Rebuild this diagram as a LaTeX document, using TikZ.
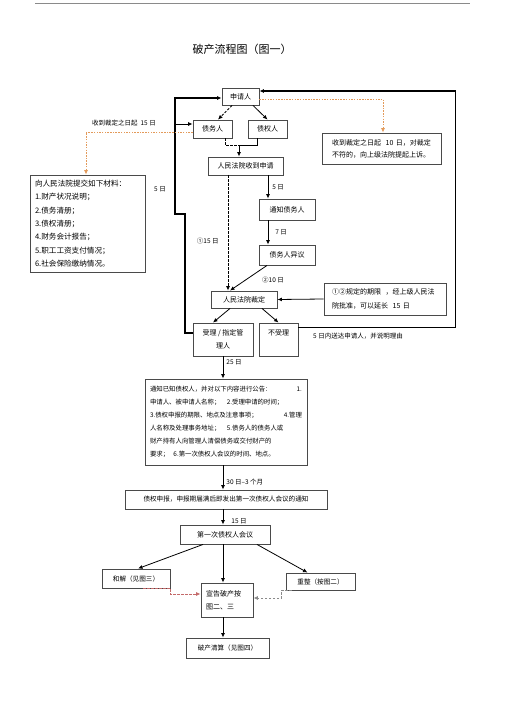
\documentclass[tikz,border=0pt]{standalone}
\usepackage{fontspec}
\setmainfont{Noto Sans CJK SC}
\usetikzlibrary{arrows.meta, positioning}
\definecolor{grisborde}{HTML}{4A4A4A}
\definecolor{naranjapunto}{HTML}{E39A5A}
\definecolor{rojopunto}{HTML}{C46A6A}
\definecolor{grispunto}{HTML}{8A8A8A}
\tikzset{
  caja/.style={
    draw=grisborde, line width=0.9pt, inner sep=0pt,
    align=center, font=\fontsize{7}{13}\selectfont, fill=white
  },
  cajaTexto/.style={caja, align=left, inner xsep=5pt, inner ysep=3pt},
  flecha/.style={-{Latex[length=4.5pt, width=4pt]}, line width=0.8pt, black},
  flechaPunteada/.style={flecha, dash pattern=on 2.5pt off 1.5pt},
  lineaPunteada/.style={line width=0.8pt, black, dash pattern=on 2.5pt off 1.5pt},
  flechaLazo/.style={flecha, line width=1.1pt},
  flechaNaranja/.style={-{Latex[length=4.5pt, width=4pt]}, line width=0.8pt,
    naranjapunto, dash pattern=on 1.5pt off 1.2pt},
  flechaRoja/.style={-{Latex[length=4.5pt, width=4pt]}, line width=0.8pt,
    rojopunto, dash pattern=on 2.5pt off 1.5pt},
  flechaGris/.style={-{Latex[length=4.5pt, width=4pt]}, line width=0.8pt,
    grispunto, dash pattern=on 2.5pt off 1.5pt},
  etiqueta/.style={font=\fontsize{6.5}{8}\selectfont, inner sep=1pt},
}

\begin{document}
\begin{tikzpicture}[x=1pt, y=-1pt]
    \useasboundingbox (0,0) rectangle (505,714);
    % Encabezado
    \draw[line width=0.5pt, grispunto] (35,3) -- (470,3);
    \node[font=\fontsize{11}{13}\selectfont] (titulo) at (242,49) {破产流程图（图一）};

    % Solicitud
    \node[caja, minimum width=37pt, minimum height=17pt] (sq) at (240.5,96.5) {申请人};
    \node[caja, minimum width=39pt, minimum height=18pt] (dw) at (212.5,129) {债务人};
    \node[caja, minimum width=39pt, minimum height=18pt] (zq) at (267.5,129) {债权人};
    \node[caja, minimum width=75pt, minimum height=18pt] (sd) at (245.5,166) {人民法院收到申请};
    \node[caja, minimum width=56pt, minimum height=21pt] (tz) at (287,209.5) {通知债务人};
    \node[caja, minimum width=56pt, minimum height=20pt] (yy) at (287,255) {债务人异议};
    \node[caja, minimum width=66pt, minimum height=17pt] (cd) at (244,299.5) {人民法院裁定};
    \node[caja, minimum width=60pt, minimum height=33pt] (sl) at (223,339.5) {受理 / 指定管\\理人};
    \node[caja, minimum width=39pt, minimum height=33pt] (bsl) at (278.5,339.5) {不受理\\\mbox{}};

    % Notas laterales
    \node[cajaTexto, text width=99pt, inner xsep=10pt, minimum height=31pt,
          font=\fontsize{7}{12}\selectfont] (ss) at (381.5,148.5)
          {收到裁定之日起\ \ 10 日，对裁定\\不符的，向上级法院提起上诉。};
    \node[cajaTexto, text width=105pt, minimum height=97pt,
          font=\fontsize{7.6}{13.3}\selectfont] (cl) at (87.5,223.5)
          {向人民法院提交如下材料：\\1.财产状况说明；\\2.债务清册；\\3.债权清册；\\4.财务会计报告；\\5.职工工资支付情况；\\6.社会保险缴纳情况。};
    \node[cajaTexto, text width=106pt, inner xsep=8pt, minimum height=32pt,
          font=\fontsize{7}{14}\selectfont] (yc) at (385,299)
          {①②规定的期限\ \ ，经上级人民法\\院批准，可以延长\ \ 15 日};

    % Tramite posterior
    \node[cajaTexto, text width=152pt, minimum height=86pt,
          font=\fontsize{6.4}{13}\selectfont] (gg) at (226,422)
          {通知已知债权人，并对以下内容进行公告：\hfill 1.\\
           申请人、被申请人名称；\quad 2.受理申请的时间；\\
           3.债权申报的期限、地点及注意事项；\hfill 4.管理\\
           人名称及处理事务地址；\quad 5.债务人的债务人或\\
           财产持有人向管理人清偿债务或交付财产的\\
           要求；\ \ 6.第一次债权人会议的时间、地点。};
    \node[caja, minimum width=202pt, minimum height=19pt,
          font=\fontsize{6.6}{13}\selectfont] (sb) at (226,499.5)
          {债权申报，申报期届满后即发出第一次债权人会议的通知};
    \node[caja, minimum width=90pt, minimum height=19pt] (hy) at (225,534.5) {第一次债权人会议};
    \node[caja, minimum width=68pt, minimum height=19pt, font=\fontsize{6.6}{13}\selectfont] (hj) at (136,578.5) {和解（见图三）};
    \node[caja, minimum width=69pt, minimum height=17pt, font=\fontsize{6.6}{13}\selectfont] (cz) at (320.5,581.5) {重整（按图二）};
    \node[cajaTexto, text width=42pt, minimum height=34pt, font=\fontsize{7}{13}\selectfont] (xg) at (227,600) {宣告破产按\\图二、三};
    \node[caja, minimum width=83pt, minimum height=20pt, font=\fontsize{6.6}{13}\selectfont] (qs) at (227.5,648) {破产清算（见图四）};

    % Etiquetas sueltas
    \node[etiqueta] (e15) at (124,123) {收到裁定之日起\ \ 15 日};
    \node[etiqueta] (e5a) at (160,189) {5 日};
    \node[etiqueta] (e5b) at (358,336) {5 日内送达申请人，并说明理由};

    % Lazos exteriores
    \coordinate (lz1) at (185,214);
    \coordinate (lz2) at (175,214);
    \coordinate (lz3) at (175,124);
    \draw[flechaLazo] ([yshift=6.5pt]sl.west) -| (lz1) -- (lz2) |- ([yshift=-1.5pt]sq.west);
    \draw[flecha] (lz3) -- ([yshift=5pt]dw.west);
    \draw[flechaLazo] ([yshift=-5pt]bsl.north east) -- ++(157,0) |- ([yshift=5.5pt]sq.east);

    % Punteadas naranjas
    \draw[flechaNaranja] ([yshift=-3pt]dw.west) -| ([xshift=-1.5pt]cl.north);
    \draw[flechaNaranja] ([yshift=-2.5pt]sq.east) -| ([xshift=1.5pt]ss.north);

    % Flujo principal
    \coordinate (jn) at (239,145);
    \draw[flechaPunteada] ([xshift=-8.5pt]sq.south) -- ([xshift=5.5pt]dw.north);
    \draw[flecha] ([xshift=12.5pt]sq.south) -- (zq.north);
    \draw[lineaPunteada] ([xshift=12.5pt]dw.south) |- (jn);
    \draw[flecha] ([xshift=-10.5pt]zq.south) |- (jn) -- (jn |- sd.north);
    \draw[flechaPunteada] ([xshift=-17.5pt]sd.south) -- ([xshift=-16pt]cd.north)
        node[etiqueta, pos=0.57, left=8pt] {①15 日};
    \draw[flecha] ([xshift=22.5pt]sd.south) -- ([xshift=-19pt]tz.north)
        node[etiqueta, midway, right=3pt] {5 日};
    \draw[flecha] ([xshift=-19pt]tz.south) -- ([xshift=-19pt]yy.north)
        node[etiqueta, midway, right=6pt] {7 日};
    \draw[flecha] ([xshift=-20pt]yy.south) -- ([xshift=-14pt]cd.north)
        node[etiqueta, pos=0.6, right=16pt] {②10 日};
    \draw[flecha] (yc.west) -- (cd.east);
    \draw[flecha] ([xshift=-14pt]cd.south) -- ([xshift=-10pt]sl.north);
    \draw[flecha] ([xshift=18pt]cd.south) -- (bsl.north);
    \draw[flecha] (sl.south) -- (sl.south |- gg.north)
        node[etiqueta, pos=0.25, right=2pt] {25 日};
    \draw[flecha] (sl.south |- gg.south) -- (sl.south |- sb.north)
        node[etiqueta, pos=0.68, right=2pt] {30 日--3 个月};
    \draw[flecha] (sl.south |- sb.south) -- (sl.south |- hy.north)
        node[etiqueta, pos=0.75, right=7pt] {15 日};

    % Reunion de acreedores
    \draw[flecha] ([xshift=-22pt]hy.south) -- ([xshift=2pt]hj.north);
    \draw[flecha] ([xshift=-2pt]hy.south) -- ([xshift=-4pt]xg.north);
    \draw[flecha] ([xshift=32pt]hy.south) -- ([xshift=-13pt]cz.north);
    \draw[flechaRoja] ([xshift=7pt]hj.south) -- (hj.south east) |- ([yshift=6pt]xg.west);
    \draw[flechaGris] ([xshift=6pt]cz.south west) -- ++(-10,0) |- ([yshift=2pt]xg.east);
    \draw[flecha] ([xshift=-4pt]xg.south) -- ([xshift=-4.5pt]qs.north);
\end{tikzpicture}
\end{document}
